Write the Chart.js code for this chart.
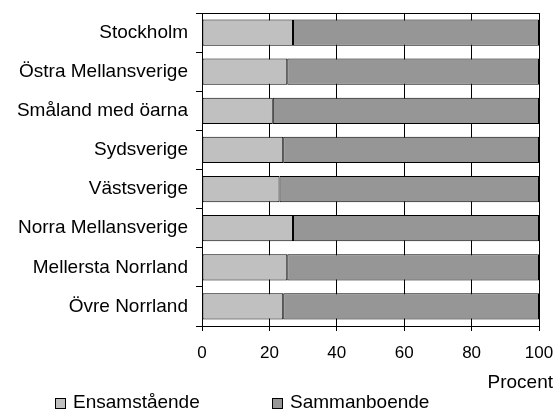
<!DOCTYPE html>
<html>
<head>
<meta charset="utf-8">
<script src="https://cdn.jsdelivr.net/npm/chart.js@4/dist/chart.umd.min.js"></script>
<style>
  html, body { margin: 0; padding: 0; background: #fff; }
  #wrap { width: 556px; height: 410px; position: relative; }
</style>
</head>
<body>
<div id="wrap"><canvas id="chart" width="556" height="410"></canvas></div>
<script>
const regions = ['Stockholm', 'Östra Mellansverige', 'Småland med öarna', 'Sydsverige', 'Västsverige', 'Norra Mellansverige', 'Mellersta Norrland', 'Övre Norrland'];
const ensamstaende = [27, 25.3, 21, 24.1, 23, 27, 25.3, 24.1];
const sammanboende = [73, 74.7, 79, 75.9, 77, 73, 74.7, 75.9];
const xTicks = [0, 20, 40, 60, 80, 100];

Chart.defaults.font.family = '"Liberation Sans", Arial, sans-serif';
Chart.defaults.font.size = 19;
Chart.defaults.color = '#000';

// frame round the plot area + legend + axis unit text
const extras = {
  id: 'extras',
  afterDraw(chart) {
    const { ctx, chartArea: a } = chart;
    ctx.save();
    ctx.strokeStyle = '#000';
    ctx.lineWidth = 1;
    ctx.strokeRect(Math.round(a.left) + 0.5, Math.round(a.top) + 0.5, Math.round(a.right - a.left), Math.round(a.bottom - a.top));

    ctx.font = '19px "Liberation Sans", Arial, sans-serif';
    ctx.fillStyle = '#000';
    ctx.textBaseline = 'middle';
    ctx.textAlign = 'right';
    ctx.fillText('Procent', 553, 383);

    ctx.textAlign = 'left';
    const items = [
      { label: 'Ensamstående', color: '#c0c0c0', x: 55 },
      { label: 'Sammanboende', color: '#969696', x: 272 }
    ];
    items.forEach(it => {
      ctx.fillStyle = it.color;
      ctx.fillRect(it.x + 0.5, 398.5, 10, 10);
      ctx.strokeRect(it.x + 0.5, 398.5, 10, 10);
      ctx.fillStyle = '#000';
      ctx.fillText(it.label, it.x + 18, 403);
    });
    ctx.restore();
  }
};

new Chart(document.getElementById('chart'), {
  type: 'bar',
  data: {
    labels: regions,
    datasets: [
      { label: 'Ensamstående', data: ensamstaende, backgroundColor: '#c0c0c0', borderColor: '#000', borderWidth: 1, borderSkipped: false },
      { label: 'Sammanboende', data: sammanboende, backgroundColor: '#969696', borderColor: '#000', borderWidth: 1, borderSkipped: false }
    ]
  },
  options: {
    indexAxis: 'y',
    responsive: false,
    animation: false,
    categoryPercentage: 1,
    barPercentage: 0.67,
    layout: { padding: { top: 13, right: 17, left: 0, bottom: 0 } },
    plugins: { legend: { display: false }, tooltip: { enabled: false } },
    scales: {
      x: {
        stacked: true,
        min: 0, max: 100,
        afterBuildTicks: axis => { axis.ticks = xTicks.map(v => ({ value: v })); },
        ticks: { padding: 12, maxRotation: 0, font: { size: 17 } },
        grid: { color: '#000', lineWidth: 1, tickLength: 5 },
        border: { color: '#000' },
        afterFit: axis => { axis.height = 84; axis.paddingLeft = 0; axis.paddingRight = 0; }
      },
      y: {
        stacked: true,
        ticks: { padding: 8 },
        grid: { color: '#000', drawOnChartArea: false, tickLength: 6, offset: true },
        border: { color: '#000' },
        afterFit: axis => { axis.width = 202; axis.paddingTop = 0; axis.paddingBottom = 0; }
      }
    }
  },
  plugins: [extras]
});
</script>
</body>
</html>
